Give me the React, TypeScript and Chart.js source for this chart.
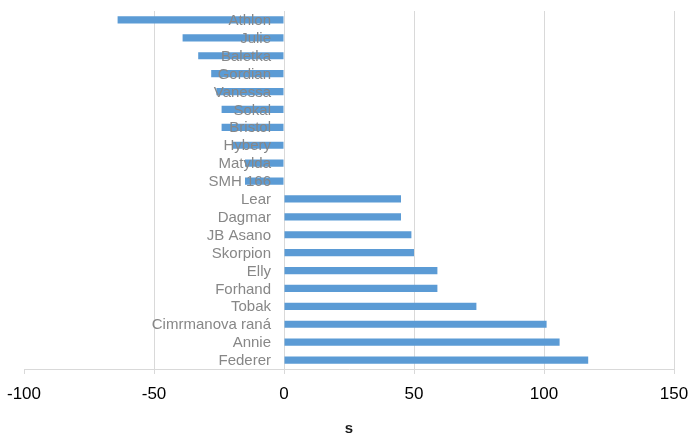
import React, { useEffect, useRef } from "react";
import { Chart, registerables } from "chart.js";

Chart.register(...registerables);

// Varieties, top to bottom
const varieties: string[] = [
  "Athlon",
  "Julie",
  "Baletka",
  "Gordian",
  "Vanessa",
  "Sokal",
  "Bristol",
  "Hybery",
  "Matylda",
  "SMH 166",
  "Lear",
  "Dagmar",
  "JB Asano",
  "Skorpion",
  "Elly",
  "Forhand",
  "Tobak",
  "Cimrmanova raná",
  "Annie",
  "Federer",
];

// Value of s for each variety
const sValues: number[] = [
  -64, -39, -33, -28, -26, -24, -24, -20, -15, -15,
  45, 45, 49, 50, 59, 59, 74, 101, 106, 117,
];

const xMin = -100;
const xMax = 150;
const xStep = 50;
const xTitle = "s";

const FONT = "'Liberation Sans', Arial, sans-serif";
const GRID = "#d9d9d9";
const LABEL_COLOR = "#878787";

// Category names are drawn right-aligned just left of the zero line
const zeroLineLabels = {
  id: "zeroLineLabels",
  afterDatasetsDraw(chart: any) {
    const { ctx, scales } = chart;
    const xs = scales.x;
    const ys = scales.y;
    const x0 = xs.getPixelForValue(0) - 13;
    ctx.save();
    ctx.font = `15px ${FONT}`;
    ctx.fillStyle = LABEL_COLOR;
    ctx.textAlign = "right";
    ctx.textBaseline = "middle";
    chart.data.labels.forEach((label: string, i: number) => {
      ctx.fillText(label, x0, ys.getPixelForTick(i) + 1);
    });
    ctx.restore();
  },
};

export default function App() {
  const canvasRef = useRef<HTMLCanvasElement | null>(null);

  useEffect(() => {
    document.body.style.margin = "0";
    const canvas = canvasRef.current;
    if (!canvas) return;
    const chart = new Chart(canvas, {
      type: "bar",
      data: {
        labels: varieties,
        datasets: [
          {
            data: sValues,
            backgroundColor: "#5b9bd5",
            borderWidth: 0,
            barPercentage: 0.4,
            categoryPercentage: 1,
          },
        ],
      },
      plugins: [zeroLineLabels],
      options: {
        indexAxis: "y",
        responsive: false,
        animation: false,
        devicePixelRatio: 1,
        layout: { padding: { top: 11, left: 0, right: 0, bottom: 0 } },
        plugins: {
          legend: { display: false },
          tooltip: { enabled: false },
        },
        scales: {
          x: {
            type: "linear",
            min: xMin,
            max: xMax,
            afterFit: (scale: any) => {
              scale.paddingLeft = 24;
              scale.paddingRight = 18;
              scale.height = 67;
            },
            ticks: {
              stepSize: xStep,
              color: "#000",
              padding: 12,
              font: { family: FONT, size: 17, lineHeight: 1 },
            },
            grid: {
              color: (ctx: any) =>
                ctx.tick && ctx.tick.value === xMin ? "rgba(0,0,0,0)" : GRID,
              tickColor: GRID,
              tickLength: 5,
              lineWidth: 1,
            },
            border: { color: GRID, width: 1 },
            title: {
              display: true,
              text: xTitle,
              color: "#1a1a1a",
              font: { family: FONT, size: 15, weight: "bold", lineHeight: 1 },
              padding: { top: 8, bottom: 0 },
            },
          },
          y: {
            type: "category",
            position: { x: 0 } as any,
            ticks: { display: false },
            grid: { display: false, drawTicks: false },
            border: { display: true, color: GRID, width: 1 },
          },
        },
      },
    });
    return () => chart.destroy();
  }, []);

  return (
    <div style={{ position: "absolute", left: 0, top: 0, width: 692, height: 436 }}>
      <canvas ref={canvasRef} width={692} height={436} />
    </div>
  );
}
